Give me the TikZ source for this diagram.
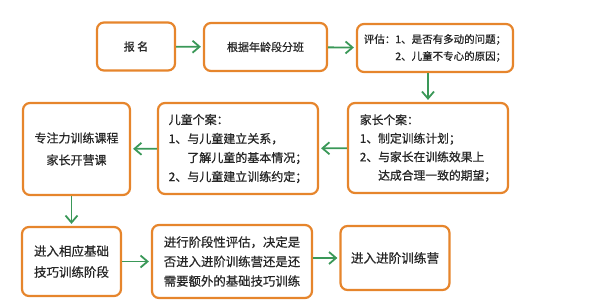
\documentclass[tikz,border=0pt]{standalone}
\usepackage{fontspec}
\setmainfont{Noto Sans CJK SC}[BoldFont={Noto Sans CJK SC}, BoldFeatures={FakeBold=0.6}]
\usetikzlibrary{arrows.meta}
\definecolor{boxorange}{RGB}{230,133,44}
\definecolor{arrgreen}{RGB}{58,152,88}
\tikzset{
  box/.style={draw=boxorange, line width=2.2pt, rounded corners=7pt, fill=white,
    inner sep=0pt, text=black!85},
  arr/.style={draw=arrgreen, line width=1.8pt,
    -{Straight Barb[length=7pt, width=12pt]}, shorten >=2pt}
}
\begin{document}
\begin{tikzpicture}[x=1pt, y=-1pt]
  \useasboundingbox (0,0) rectangle (606,307);
  % 第一行
  \node[box, minimum width=78pt, minimum height=48pt, font=\fontsize{11}{16}\selectfont\bfseries]
    (baoming) at (136,46.5) {报\ 名};
  \node[box, minimum width=123pt, minimum height=48pt, font=\fontsize{11}{16}\selectfont\bfseries]
    (fenban) at (265.5,47) {根据年龄段分班};
  \node[box, minimum width=156pt, minimum height=48pt, align=right,
    font=\fontsize{10.5}{17}\selectfont\bfseries]
    (pinggu) at (435,48) {评估：1、是否有多动的问题；\\2、儿童不专心的原因；};
  % 第二行
  \node[box, minimum width=160pt, minimum height=90pt, align=left,
    font=\fontsize{11.8}{18.5}\selectfont\bfseries]
    (jiazhang) at (428,148) {家长个案：\\1、制定训练计划；\\2、与家长在训练效果上\\\hphantom{2、}达成合理一致的期望；};
  \node[box, minimum width=160pt, minimum height=91pt, align=left,
    font=\fontsize{12}{19}\selectfont\bfseries]
    (ertong) at (238,148.5) {儿童个案：\\1、与儿童建立关系，\\\hphantom{1、}了解儿童的基本情况；\\2、与儿童建立训练约定；};
  \node[box, minimum width=107pt, minimum height=92pt, align=center,
    font=\fontsize{12}{22}\selectfont\bfseries]
    (zhuanzhu) at (76.5,149) {专注力训练课程\\家长开营课};
  % 第三行
  \node[box, minimum width=99pt, minimum height=69pt, align=left,
    font=\fontsize{12.5}{21}\selectfont\bfseries]
    (jinru) at (71.5,261.5) {进入相应基础\\技巧训练阶段};
  \node[box, minimum width=160pt, minimum height=73pt, align=left,
    font=\fontsize{12.4}{19.5}\selectfont\bfseries]
    (jinxing) at (232,261.5) {进行阶段性评估，决定是\\否进入进阶训练营还是还\\需要额外的基础技巧训练};
  \node[box, minimum width=109pt, minimum height=64pt, font=\fontsize{12.6}{19}\selectfont\bfseries]
    (jinjie) at (395,258) {进入进阶训练营};
  % 箭头
  \draw[arr] (baoming) -- (fenban);
  \draw[arr] (fenban) -- (pinggu);
  \draw[arr] (pinggu.south -| jiazhang) -- (jiazhang);
  \draw[arr] (jiazhang) -- (ertong);
  \draw[arr] (ertong) -- (zhuanzhu);
  \draw[arr] (zhuanzhu.south -| jinru) -- (jinru);
  \draw[arr] (jinru.east |- jinxing) -- (jinxing);
  \draw[arr] (jinxing.east |- jinjie) -- (jinjie);
\end{tikzpicture}
\end{document}
